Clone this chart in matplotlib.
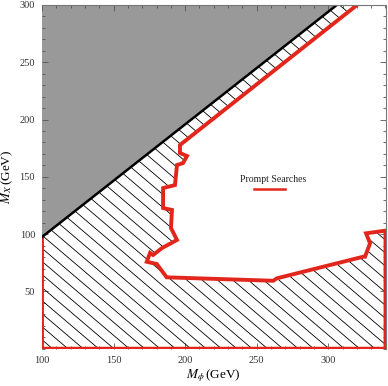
import numpy as np
import matplotlib
matplotlib.use("Agg")
import matplotlib.pyplot as plt
from matplotlib.patches import Polygon
from matplotlib.collections import LineCollection

plt.rcParams['font.family'] = ['Liberation Serif', 'DejaVu Serif']
plt.rcParams['mathtext.fontset'] = 'stix'

# Kinematic boundary (black line), M_X vs M_phi
diag_x = [100, 306]
diag_y = [97.5, 300]

# Prompt-search exclusion contour (red)
contour_x = [320.1, 196.4, 196.4, 201.3, 198.5, 194.3, 192.9, 184.6, 184.6, 190.8,
             190.1, 194.3, 183.9, 177.6, 175.5, 173.2, 180.2, 187.1, 261.6, 264.0,
             324.5, 325.7, 329.2, 326.4, 339.7]
contour_y = [300.0, 177.8, 170.8, 168.2, 162.0, 160.3, 142.8, 140.2, 122.8, 121.1,
             105.4, 94.9, 87.9, 81.8, 83.6, 75.9, 73.9, 62.3, 59.3, 61.4,
             80.3, 80.3, 92.0, 100.7, 103.0]

xlim = (100, 340)
ylim = (0, 300)
xticks_major = [100, 150, 200, 250, 300]
yticks_major = [50, 100, 150, 200, 250, 300]

legend_label = "Prompt Searches"

RED = '#e3261c'
GRAY = '#999999'

fig = plt.figure(figsize=(3.88, 3.86), dpi=100)
ax = fig.add_axes([42/388, (386-348.7)/386, 343.5/388, 343.7/386])
ax.set_xlim(*xlim)
ax.set_ylim(*ylim)

# gray forbidden region above diagonal
gx = [diag_x[0], diag_x[1], xlim[0]]
gy = [diag_y[0], diag_y[1], ylim[1]]
ax.add_patch(Polygon(list(zip(gx, gy)), closed=True, facecolor=GRAY, edgecolor='none', zorder=1))

# excluded (hatched) region
px = [xlim[0], xlim[0], diag_x[1]] + contour_x + [xlim[1], xlim[1]]
py = [ylim[0], diag_y[0], diag_y[1]] + contour_y + [contour_y[-1], ylim[0]]
poly = Polygon(list(zip(px, py)), closed=True, facecolor='white', edgecolor='none', zorder=1)
ax.add_patch(poly)

# manual hatch lines (in axes-fraction coordinates), clipped to polygon
slope = -0.85
spacing = 0.038
segs = []
for c in np.arange(-1.0, 2.2, spacing):
    x0, x1 = -0.2, 1.2
    segs.append([(x0, c + slope * x0), (x1, c + slope * x1)])
lc = LineCollection(segs, colors='black', linewidths=0.6, transform=ax.transAxes, zorder=2)
ax.add_collection(lc)
lc.set_clip_path(poly)

# red boundary of excluded region (not along the kinematic line)
rx = contour_x + [xlim[1], xlim[1], xlim[0], xlim[0]]
ry = contour_y + [contour_y[-1], ylim[0], ylim[0], diag_y[0]]
ax.plot(rx, ry, color=RED, lw=2.8, zorder=3, solid_joinstyle='miter')
# black kinematic line
ax.plot(diag_x, diag_y, color='black', lw=1.8, zorder=4)

# legend
ax.text(261.4, 148, legend_label, ha='center', va='center', fontsize=7, color='#222222', zorder=5)
ax.plot([248.4, 270.0], [139.3, 139.3], color=RED, lw=1.8, zorder=5)

ax.set_xticks(xticks_major)
ax.set_yticks(yticks_major)
ax.set_xticks(np.arange(100, 341, 10), minor=True)
ax.set_yticks(np.arange(0, 301, 10), minor=True)
ax.tick_params(which='both', direction='in', top=True, right=True, color='#555555', width=0.6)
ax.tick_params(which='major', length=4, labelsize=7.5, labelcolor='#333333', pad=5)
ax.tick_params(which='minor', length=2.2)
for s in ax.spines.values():
    s.set_color('#777777')
    s.set_linewidth(0.8)
    s.set_zorder(6)
ax.spines['left'].set_visible(False)
ax.spines['bottom'].set_visible(False)

ax.set_xlabel(r'$M_{\phi}\,$(GeV)', fontsize=9.5, labelpad=2)
ax.set_ylabel(r'$M_{X}\,$(GeV)', fontsize=9.5, labelpad=3)

fig.savefig('out.png', dpi=100)
